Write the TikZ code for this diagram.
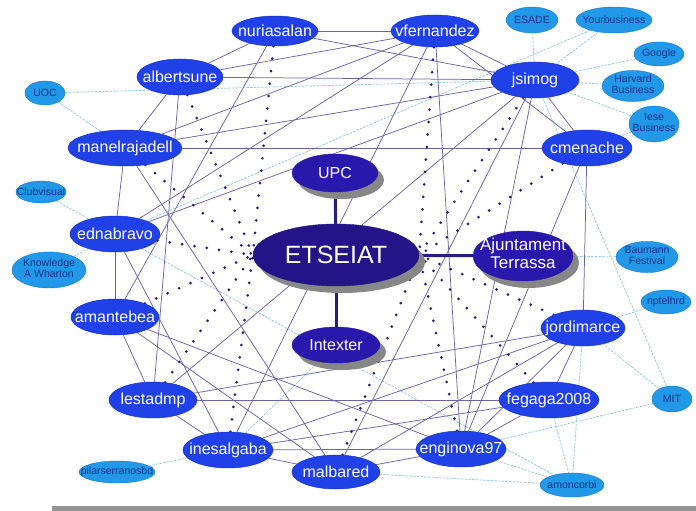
\documentclass[tikz,border=0pt]{standalone}
\usepackage{fontspec}
\setmainfont{Liberation Sans}
\usetikzlibrary{shapes.geometric,shadows}
\pgfdeclarelayer{bg}
\pgfsetlayers{bg,main}
\definecolor{memblue}{RGB}{32,64,232}
\definecolor{memline}{RGB}{22,48,200}
\definecolor{cDark}{RGB}{42,24,172}
\definecolor{cDarkE}{RGB}{36,20,135}
\definecolor{lightb}{RGB}{34,152,232}
\definecolor{lightline}{RGB}{20,120,200}
\definecolor{lighttext}{RGB}{24,50,140}
\definecolor{solcol}{RGB}{110,98,165}
\definecolor{thkcol}{RGB}{40,28,130}
\definecolor{cycol}{RGB}{150,205,222}
\definecolor{dotcol}{RGB}{40,32,120}
\definecolor{barcol}{RGB}{150,150,150}
\definecolor{shadcol}{RGB}{135,135,135}
\newcommand\mt[1]{\makebox[0pt]{#1}}
\newcommand\mtt[2]{\makebox[0pt]{\begin{tabular}{@{}c@{}}#1\\#2\end{tabular}}}
\begin{document}
\begin{tikzpicture}[x=1pt,y=-1pt,
  mem/.style={ellipse, fill=memblue, draw=memline, line width=0.5pt, inner sep=0pt, text=white, font=\fontsize{16}{18}\selectfont},
  dk/.style={ellipse, fill=cDark, draw=cDark, inner sep=0pt, text=white, font=\fontsize{16}{18}\selectfont,
     drop shadow={shadow xshift=6pt, shadow yshift=-7pt, fill=shadcol, opacity=1}},
  lt/.style={ellipse, fill=lightb, draw=lightline, line width=0.4pt, inner sep=0pt, text=lighttext, font=\fontsize{10.5}{11}\selectfont},
  sol/.style={draw=solcol, line width=0.75pt},
  thk/.style={draw=thkcol, line width=3pt},
  cyedge/.style={draw=cycol, line width=0.8pt, dash pattern=on 2.5pt off 1.2pt},
  dotedge/.style={draw=dotcol, line width=3pt, line cap=round, dash pattern=on 0pt off 12.5pt}
]
\useasboundingbox (0,0) rectangle (696,511);
\fill[barcol] (52,506) rectangle (696,511);

% members
\node[mem, minimum width=86pt, minimum height=30pt] (nur) at (275,31) {\mt{nuriasalan}};
\node[mem, minimum width=88pt, minimum height=32pt] (vfe) at (435,31) {\mt{vfernandez}};
\node[mem, minimum width=86pt, minimum height=36pt] (alb) at (180,77) {\mt{albertsune}};
\node[mem, minimum width=88pt, minimum height=36pt] (jsi) at (535,80) {\mt{jsimog}};
\node[mem, minimum width=114pt, minimum height=36pt] (man) at (125,148) {\mt{manelrajadell}};
\node[mem, minimum width=90pt, minimum height=36pt] (cme) at (587,148) {\mt{cmenache}};
\node[mem, minimum width=90pt, minimum height=36pt] (edn) at (115,234) {\mt{ednabravo}};
\node[mem, minimum width=88pt, minimum height=36pt] (ama) at (115,317) {\mt{amantebea}};
\node[mem, minimum width=88pt, minimum height=36pt] (les) at (153,400) {\mt{lestadmp}};
\node[mem, minimum width=90pt, minimum height=36pt] (ine) at (228,450) {\mt{inesalgaba}};
\node[mem, minimum width=88pt, minimum height=34pt] (mal) at (336,472) {\mt{malbared}};
\node[mem, minimum width=90pt, minimum height=36pt] (eng) at (461,449) {\mt{enginova97}};
\node[mem, minimum width=100pt, minimum height=36pt] (feg) at (549,400) {\mt{fegaga2008}};
\node[mem, minimum width=84pt, minimum height=36pt] (jor) at (583,328) {\mt{jordimarce}};

% institutions
\node[dk, minimum width=86pt, minimum height=38pt] (upc) at (335,173) {\mt{UPC}};
\node[dk, fill=cDarkE, draw=cDarkE, minimum width=166pt, minimum height=62pt, font=\fontsize{25}{27}\selectfont] (ets) at (336,255) {\mt{ETSEIAT}};
\node[dk, minimum width=88pt, minimum height=36pt] (int) at (336,345) {\mt{Intexter}};
\node[dk, minimum width=100pt, minimum height=50pt, font=\fontsize{17}{17.5}\selectfont] (aju) at (523,256) {\mtt{Ajuntament}{Terrassa}};

% external
\node[lt, minimum width=40pt, minimum height=24pt] (uoc) at (45,93) {\mt{UOC}};
\node[lt, minimum width=50pt, minimum height=22pt] (clu) at (41,192) {\mt{Clubvisual}};
\node[lt, minimum width=74pt, minimum height=36pt] (kno) at (49,270) {\mtt{Knowledge}{A Wharton}};
\node[lt, minimum width=76pt, minimum height=22pt] (pil) at (117,472) {\mt{pilarserranosbd}};
\node[lt, minimum width=52pt, minimum height=26pt] (esa) at (532,20) {\mt{ESADE}};
\node[lt, minimum width=76pt, minimum height=26pt] (you) at (614,20) {\mt{Yourbusiness}};
\node[lt, minimum width=50pt, minimum height=24pt] (goo) at (659,54) {\mt{Google}};
\node[lt, minimum width=62pt, minimum height=26pt] (har) at (633,86) {\mtt{Harvard}{Business}};
\node[lt, minimum width=50pt, minimum height=36pt] (ies) at (654,124) {\mtt{Iese}{Business}};
\node[lt, minimum width=62pt, minimum height=26pt] (bau) at (647,257) {\mtt{Baumann}{Festival}};
\node[lt, minimum width=50pt, minimum height=24pt] (npt) at (666,302) {\mt{nptelhrd}};
\node[lt, minimum width=40pt, minimum height=26pt] (mit) at (672,399) {\mt{MIT}};
\node[lt, minimum width=64pt, minimum height=24pt] (amo) at (572,485) {\mt{amoncorbi}};

\begin{pgfonlayer}{bg}
% light external links
\foreach \a/\b in {uoc/jsi, uoc/man, clu/edn, kno/edn, edn/amo, pil/ine, ine/int, mal/amo, eng/amo,
  feg/amo, jor/amo, mit/eng, mit/jor, jsi/mit, npt/jor, bau/aju, esa/jsi, you/jsi, goo/jsi, har/jsi,
  ies/jsi, ies/cme, you/edn}
  \draw[cyedge] (\a) -- (\b);
% member links
\foreach \a/\b in {nur/vfe, nur/alb, nur/jsi, nur/ama, alb/vfe, alb/jsi, alb/man, alb/les, vfe/jsi,
  vfe/cme, vfe/eng, vfe/man, vfe/ine, man/cme, man/edn, man/mal, man/jsi, edn/jsi, edn/ama, edn/ine,
  ama/les, les/ine, ama/mal, ama/eng, les/feg, les/jor, ine/eng, ine/jor, ine/feg, ine/mal, mal/eng,
  mal/jor, mal/jsi, eng/feg, eng/jsi, eng/jor, eng/cme, feg/jor, cme/jor, jsi/cme, edn/vfe, les/jsi}
  \draw[sol] (\a) -- (\b);
% dotted links to ETSEIAT
\foreach \a in {alb, man, edn, ama, les, ine, nur}
  \draw[dotedge] (\a) -- (ets.west);
\foreach \a in {vfe, jsi, cme, jor, feg, eng, mal}
  \draw[dotedge] (\a) -- (ets.east);
% institutional links
\draw[thk] (upc) -- (ets);
\draw[thk] (ets) -- (int);
\draw[thk] (ets) -- (aju);
\end{pgfonlayer}
\end{tikzpicture}
\end{document}
